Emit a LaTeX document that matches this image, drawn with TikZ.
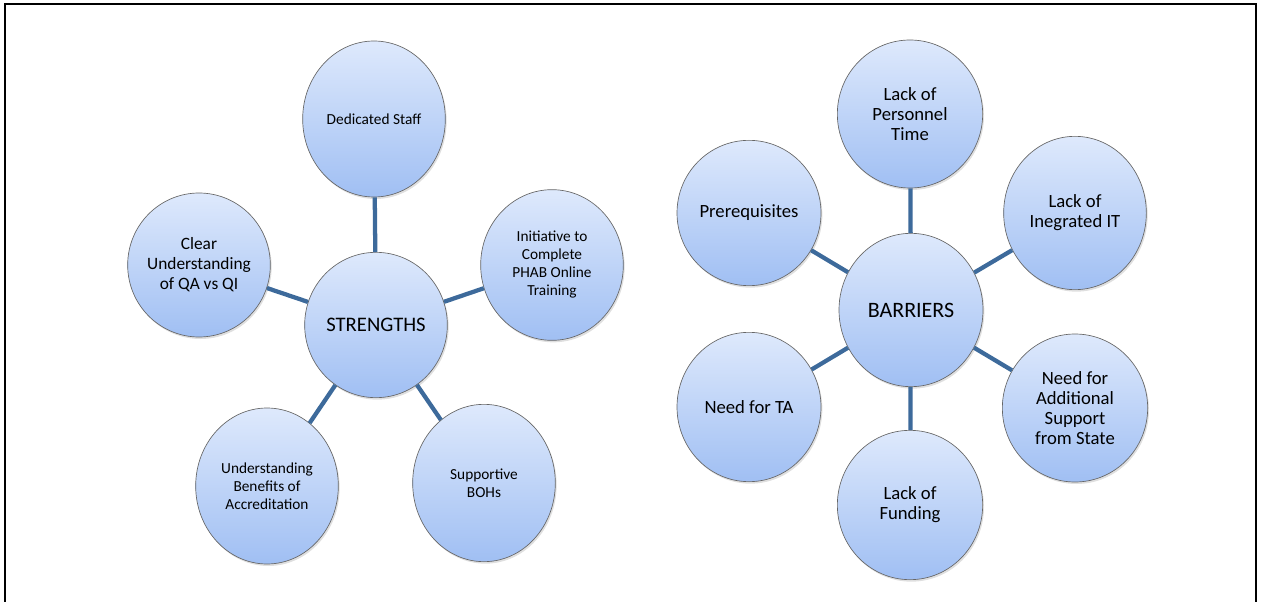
\documentclass[tikz,border=0pt]{standalone}
\usepackage{fontspec}
\setmainfont{Carlito}
\usetikzlibrary{shapes.geometric, shadows, positioning}
\definecolor{bubbletop}{RGB}{222,233,252}
\definecolor{bubblebottom}{RGB}{160,191,243}
\definecolor{linkblue}{RGB}{61,106,155}
\tikzset{
    bubble/.style={
        ellipse, draw=black!60, line width=0.5pt,
        top color=bubbletop, bottom color=bubblebottom,
        align=center, inner sep=-8pt,
        minimum width=107pt, minimum height=113pt,
        drop shadow={opacity=0.25, shadow xshift=1pt, shadow yshift=-1.5pt}
    },
    smalltext/.style={font=\fontsize{11.5}{13.5}\selectfont},
    bigtext/.style={font=\fontsize{14}{15}\selectfont},
    link/.style={draw=linkblue, line width=3.2pt},
}

\begin{document}
\begin{tikzpicture}[x=0.75pt, y=-0.75pt]

    \useasboundingbox (0,0) rectangle (1267,602);

    % Frame
    \draw[line width=1.5pt] (5,602) -- (5,4) -- (1256,4) -- (1256,602);

    % Strengths
    \node[bubble, minimum height=109pt, font=\fontsize{15.5}{18}\selectfont] (strengths) at (376,325) {STRENGTHS};
    \node[bubble, smalltext, minimum height=117pt] (staff) at (374,119) {Dedicated Staff};
    \node[bubble, minimum height=108pt, font=\fontsize{13}{15}\selectfont] (clear) at (199,265) {Clear\\Understanding\\of QA vs QI};
    \node[bubble, smalltext] (initiative) at (552,265) {Initiative to\\Complete\\PHAB Online\\Training};
    \node[bubble, smalltext, minimum height=117pt] (benefits) at (267,486) {Understanding\\Benefits of\\Accreditation};
    \node[bubble, smalltext, minimum height=118pt] (supportive) at (484,483) {Supportive\\BOHs};

    % Barriers
    \node[bubble, minimum width=108pt, minimum height=115pt, font=\fontsize{16.5}{19}\selectfont] (barriers) at (911,310) {BARRIERS};
    \node[bubble, bigtext, minimum width=109pt, minimum height=111pt] (personnel) at (910,114) {Lack of\\Personnel\\Time};
    \node[bubble, bigtext, minimum height=115pt] (integrated) at (1075,213) {Lack of\\Inegrated IT};
    \node[bubble, bigtext, minimum width=108pt, minimum height=109pt] (prereq) at (749,213) {Prerequisites};
    \node[bubble, bigtext, minimum width=108pt, minimum height=112pt] (needta) at (749,407) {Need for TA};
    \node[bubble, bigtext, minimum width=109pt, minimum height=111pt] (support) at (1075,408) {Need for\\Additional\\Support\\from State};
    \node[bubble, bigtext, minimum width=109pt, minimum height=112pt] (funding) at (910,505) {Lack of\\Funding};

    % Links
    \foreach \leaf in {staff, clear, initiative, benefits, supportive}
        \path[link] (strengths) -- (\leaf);
    \foreach \leaf in {personnel, integrated, prereq, needta, support, funding}
        \path[link] (barriers) -- (\leaf);

\end{tikzpicture}
\end{document}
